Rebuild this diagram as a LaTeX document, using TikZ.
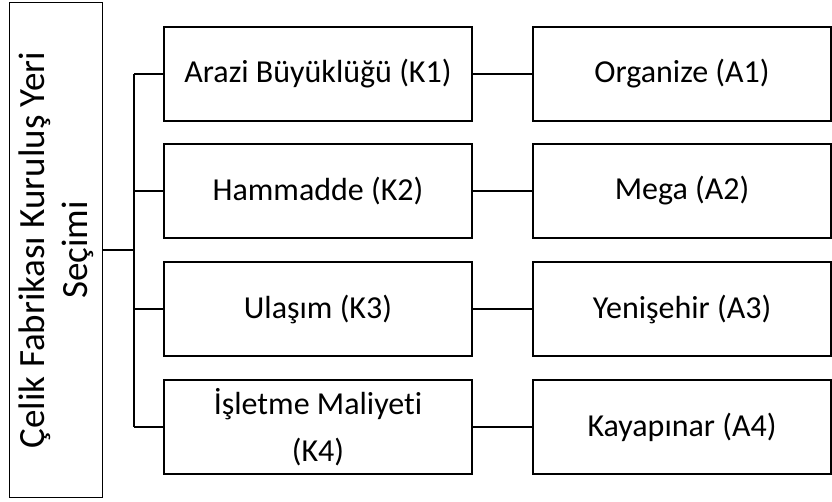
\documentclass[tikz,border=0pt]{standalone}
\usepackage{fontspec}
\setmainfont[Ligatures=CommonOff]{Carlito}
\begin{document}
\begin{tikzpicture}[x=1pt,y=-1pt,
  box/.style={draw=black, line width=1.8pt, inner sep=0pt, align=center,
    font=\fontsize{32}{47}\selectfont},
  kbox/.style={box, minimum width=308pt, minimum height=94pt},
  abox/.style={box, minimum width=298pt, minimum height=94pt},
  mainbox/.style={box, rotate=90, minimum width=495pt, minimum height=93pt,
    font=\fontsize{37}{43}\selectfont},
  link/.style={line width=1.8pt}]
\useasboundingbox (0,0) rectangle (832,501);
\node[mainbox] (L) at (56,250) {Çelik Fabrikası Kuruluş Yeri\\Seçimi};
\node[kbox] (K1) at (318,74) {Arazi Büyüklüğü (K1)};
\node[kbox] (K2) at (318,191) {Hammadde (K2)};
\node[kbox] (K3) at (318,309) {Ulaşım (K3)};
\node[kbox] (K4) at (318,427) {İşletme Maliyeti\\(K4)};
\node[abox] (A1) at (682,74) {Organize (A1)};
\node[abox] (A2) at (682,191) {Mega (A2)};
\node[abox] (A3) at (682,309) {Yenişehir (A3)};
\node[abox] (A4) at (682,427) {Kayapınar (A4)};
\coordinate (t1) at (134,74);
\coordinate (t4) at (134,427);
\draw[link] (t1) -- (t4);
% rotated node: its south anchor is on the right side
\draw[link] (L.south) -- (L.south -| t1);
\foreach \i in {1,2,3,4}{
  \draw[link] (K\i.west) -- (K\i.west -| t1);
  \draw[link] (K\i.east) -- (A\i.west);
}
\end{tikzpicture}
\end{document}
